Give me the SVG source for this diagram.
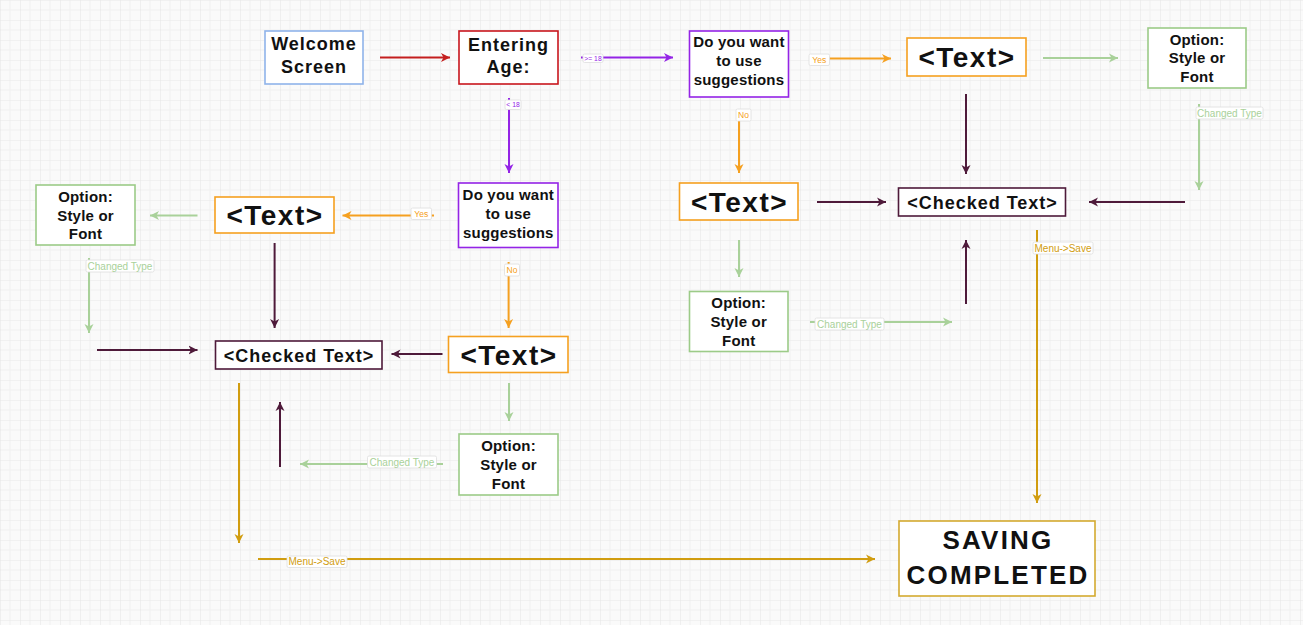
<svg xmlns="http://www.w3.org/2000/svg" width="1303" height="625" viewBox="0 0 1303 625">
<defs>
<pattern id="grid" width="20" height="20" patternUnits="userSpaceOnUse">
<path d="M10 0 L10 20 M0 10 L20 10" fill="none" stroke="#f0f0f0" stroke-width="1"/>
<path d="M20 0 L0 0 L0 20" fill="none" stroke="#e7e7e7" stroke-width="1.2"/>
</pattern>
<marker id="a-red" markerWidth="10" markerHeight="10" refX="9" refY="5" orient="auto" markerUnits="userSpaceOnUse"><path d="M0,0.5 L9,5 L0,9.5 L2.5,5 z" fill="#c41e1e"/></marker>
<marker id="a-pur" markerWidth="10" markerHeight="10" refX="9" refY="5" orient="auto" markerUnits="userSpaceOnUse"><path d="M0,0.5 L9,5 L0,9.5 L2.5,5 z" fill="#9424e6"/></marker>
<marker id="a-org" markerWidth="10" markerHeight="10" refX="9" refY="5" orient="auto" markerUnits="userSpaceOnUse"><path d="M0,0.5 L9,5 L0,9.5 L2.5,5 z" fill="#f5a020"/></marker>
<marker id="a-grn" markerWidth="10" markerHeight="10" refX="9" refY="5" orient="auto" markerUnits="userSpaceOnUse"><path d="M0,0.5 L9,5 L0,9.5 L2.5,5 z" fill="#a9d19a"/></marker>
<marker id="a-drk" markerWidth="10" markerHeight="10" refX="9" refY="5" orient="auto" markerUnits="userSpaceOnUse"><path d="M0,0.5 L9,5 L0,9.5 L2.5,5 z" fill="#4e1a3a"/></marker>
<marker id="a-gld" markerWidth="10" markerHeight="10" refX="9" refY="5" orient="auto" markerUnits="userSpaceOnUse"><path d="M0,0.5 L9,5 L0,9.5 L2.5,5 z" fill="#d19d10"/></marker>
</defs>
<style>
.box{fill:#ffffff;stroke-width:1.6}
.t{font-family:"Liberation Sans",Arial,sans-serif;font-weight:bold;fill:#111;text-anchor:middle}
.t18{font-size:18px;letter-spacing:1px}
.t15{font-size:15px;letter-spacing:0.2px}
.t28{font-size:28px;letter-spacing:1.5px}
.t26{font-size:26px;letter-spacing:2.2px}
.c{fill:none;stroke-width:2}
.red{stroke:#c41e1e}
.pur{stroke:#9424e6}
.org{stroke:#f5a020}
.grn{stroke:#a9d19a}
.drk{stroke:#4e1a3a}
.gld{stroke:#d19d10}
.lb{fill:#ffffff;stroke:#dddddd;stroke-width:0.8}
.lt{font-family:"Liberation Sans",Arial,sans-serif;text-anchor:middle}
.ct{font-size:10px;fill:#a9d19a}
.ms{font-size:10px;fill:#d19d10}
.yn{font-size:8.5px;fill:#f5a020}
.ag{font-size:6.8px;fill:#9424e6}
</style>
<rect width="1303" height="625" fill="#fafafa"/>
<rect width="1303" height="625" fill="url(#grid)"/>

<g id="connectors">
<line class="c red" x1="380" y1="57.5" x2="450" y2="57.5" marker-end="url(#a-red)"/>
<line class="c pur" x1="581" y1="57.5" x2="673" y2="57.5" marker-end="url(#a-pur)"/>
<line class="c pur" x1="509" y1="98" x2="509" y2="173" marker-end="url(#a-pur)"/>
<line class="c org" x1="809" y1="58.5" x2="891" y2="58.5" marker-end="url(#a-org)"/>
<line class="c grn" x1="1043" y1="58" x2="1118" y2="58" marker-end="url(#a-grn)"/>
<line class="c drk" x1="966" y1="94" x2="966" y2="174" marker-end="url(#a-drk)"/>
<line class="c org" x1="739" y1="110" x2="739" y2="173" marker-end="url(#a-org)"/>
<line class="c grn" x1="1199" y1="104" x2="1199" y2="190" marker-end="url(#a-grn)"/>
<line class="c drk" x1="817" y1="202" x2="886" y2="202" marker-end="url(#a-drk)"/>
<line class="c drk" x1="1185" y1="202" x2="1089" y2="202" marker-end="url(#a-drk)"/>
<line class="c grn" x1="739" y1="240" x2="739" y2="277" marker-end="url(#a-grn)"/>
<line class="c grn" x1="810" y1="322" x2="952" y2="322" marker-end="url(#a-grn)"/>
<line class="c drk" x1="966" y1="304" x2="966" y2="240" marker-end="url(#a-drk)"/>
<line class="c gld" x1="1037" y1="230" x2="1037" y2="503" marker-end="url(#a-gld)"/>
<line class="c org" x1="434" y1="215.5" x2="342.5" y2="215.5" marker-end="url(#a-org)"/>
<line class="c grn" x1="197.5" y1="215.5" x2="150" y2="215.5" marker-end="url(#a-grn)"/>
<line class="c org" x1="508.6" y1="262" x2="508.6" y2="328" marker-end="url(#a-org)"/>
<line class="c drk" x1="274.6" y1="243" x2="274.6" y2="328" marker-end="url(#a-drk)"/>
<line class="c grn" x1="89" y1="258" x2="89" y2="333" marker-end="url(#a-grn)"/>
<line class="c drk" x1="97" y1="350" x2="197.5" y2="350" marker-end="url(#a-drk)"/>
<line class="c drk" x1="442.5" y1="354" x2="391.5" y2="354" marker-end="url(#a-drk)"/>
<line class="c grn" x1="509" y1="383" x2="509" y2="421" marker-end="url(#a-grn)"/>
<line class="c grn" x1="443" y1="464" x2="300" y2="464" marker-end="url(#a-grn)"/>
<line class="c drk" x1="280" y1="467" x2="280" y2="402" marker-end="url(#a-drk)"/>
<line class="c gld" x1="239" y1="383" x2="239" y2="543" marker-end="url(#a-gld)"/>
<line class="c gld" x1="258" y1="559" x2="875" y2="559" marker-end="url(#a-gld)"/>

<g id="labels">
<rect class="lb" x="583" y="54" width="20" height="8.5" rx="1.5"/>
<text class="lt ag" x="593" y="60.7">&gt;= 18</text>
<rect class="lb" x="505" y="100" width="16" height="9.5" rx="1.5"/>
<text class="lt ag" x="513" y="107.2">&lt; 18</text>
<rect class="lb" x="809" y="54" width="20.5" height="11.5" rx="1.5"/>
<text class="lt yn" x="819.3" y="63">Yes</text>
<rect class="lb" x="736" y="109" width="15" height="12" rx="1.5"/>
<text class="lt yn" x="743.5" y="118.2">No</text>
<rect class="lb" x="1196" y="107" width="67" height="12" rx="1.5"/>
<text class="lt ct" x="1229.5" y="116.6">Changed Type</text>
<rect class="lb" x="815" y="318" width="69" height="12" rx="1.5"/>
<text class="lt ct" x="849.5" y="327.6">Changed Type</text>
<rect class="lb" x="1033" y="242" width="60" height="12" rx="1.5"/>
<text class="lt ms" x="1063" y="251.6">Menu-&gt;Save</text>
<rect class="lb" x="411" y="208" width="20.5" height="11.5" rx="1.5"/>
<text class="lt yn" x="421.3" y="217">Yes</text>
<rect class="lb" x="504.5" y="264" width="15" height="12" rx="1.5"/>
<text class="lt yn" x="512" y="273.2">No</text>
<rect class="lb" x="86" y="260" width="68" height="12" rx="1.5"/>
<text class="lt ct" x="120" y="269.6">Changed Type</text>
<rect class="lb" x="367.5" y="456" width="69" height="12" rx="1.5"/>
<text class="lt ct" x="402" y="465.6">Changed Type</text>
<rect class="lb" x="287" y="556" width="60" height="11.5" rx="1.5"/>
<text class="lt ms" x="317" y="565.3">Menu-&gt;Save</text>
</g>
</g>

<g id="welcome">
<rect class="box" x="265" y="31" width="98" height="53" stroke="#8fb3ea"/>
<text class="t t18" x="314" y="50">Welcome</text>
<text class="t t18" x="314" y="73">Screen</text>
</g>
<g id="entering-age">
<rect class="box" x="459" y="31" width="99" height="53" stroke="#c8161d"/>
<text class="t t18" x="508.5" y="51">Entering</text>
<text class="t t18" x="508.5" y="73">Age:</text>
</g>
<g id="suggest-top">
<rect class="box" x="689.5" y="31" width="99" height="66" stroke="#9424e6"/>
<text class="t t15" x="739" y="47">Do you want</text>
<text class="t t15" x="739" y="66">to use</text>
<text class="t t15" x="739" y="84.5">suggestions</text>
</g>
<g id="text-top">
<rect class="box" x="907" y="38" width="119" height="38" stroke="#f5a020"/>
<text class="t t28" x="967" y="66.5">&lt;Text&gt;</text>
</g>
<g id="option-top">
<rect class="box" x="1148" y="28" width="98" height="60" stroke="#9ccb88"/>
<text class="t t15" x="1197" y="44.5">Option:</text>
<text class="t t15" x="1197" y="63">Style or</text>
<text class="t t15" x="1197" y="82">Font</text>
</g>
<g id="suggest-mid">
<rect class="box" x="458.5" y="183" width="99.5" height="64.5" stroke="#9424e6"/>
<text class="t t15" x="508.3" y="199.7">Do you want</text>
<text class="t t15" x="508.3" y="218.7">to use</text>
<text class="t t15" x="508.3" y="237.5">suggestions</text>
</g>
<g id="text-left">
<rect class="box" x="215" y="197" width="119" height="36" stroke="#f5a020"/>
<text class="t t28" x="275" y="225">&lt;Text&gt;</text>
</g>
<g id="option-left">
<rect class="box" x="36" y="185" width="99" height="60" stroke="#9ccb88"/>
<text class="t t15" x="85.5" y="202">Option:</text>
<text class="t t15" x="85.5" y="220.7">Style or</text>
<text class="t t15" x="85.5" y="239.4">Font</text>
</g>
<g id="text-bottom">
<rect class="box" x="448.5" y="336.5" width="119.5" height="36" stroke="#f5a020"/>
<text class="t t28" x="509" y="364.5">&lt;Text&gt;</text>
</g>
<g id="checked-left">
<rect class="box" x="215.5" y="341" width="166.5" height="28" stroke="#4e1a3a"/>
<text class="t t18" x="299" y="361.5">&lt;Checked Text&gt;</text>
</g>
<g id="option-bottom">
<rect class="box" x="459" y="434" width="99" height="61" stroke="#9ccb88"/>
<text class="t t15" x="508.5" y="450.7">Option:</text>
<text class="t t15" x="508.5" y="469.7">Style or</text>
<text class="t t15" x="508.5" y="488.7">Font</text>
</g>
<g id="text-mid">
<rect class="box" x="679.5" y="183" width="118.5" height="37" stroke="#f5a020"/>
<text class="t t28" x="739.5" y="211.5">&lt;Text&gt;</text>
</g>
<g id="checked-right">
<rect class="box" x="898.5" y="188" width="167" height="28" stroke="#4e1a3a"/>
<text class="t t18" x="982.5" y="208.5">&lt;Checked Text&gt;</text>
</g>
<g id="option-mid">
<rect class="box" x="689.5" y="291.5" width="98.5" height="60" stroke="#9ccb88"/>
<text class="t t15" x="738.7" y="308">Option:</text>
<text class="t t15" x="738.7" y="327">Style or</text>
<text class="t t15" x="738.7" y="345.5">Font</text>
</g>
<g id="saving">
<rect class="box" x="899" y="521" width="196" height="75" stroke="#d4aa30"/>
<text class="t t26" x="998" y="548.7">SAVING</text>
<text class="t t26" x="998" y="583.7">COMPLETED</text>
</g>
</svg>
